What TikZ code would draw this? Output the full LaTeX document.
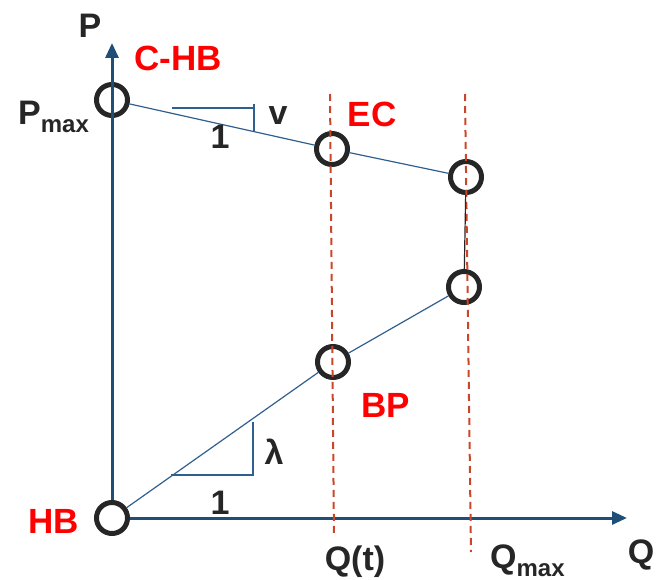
\documentclass[tikz,border=0pt]{standalone}
\usepackage{fontspec}
\setmainfont{Liberation Sans}
\usetikzlibrary{arrows.meta}

\definecolor{axisblue}{HTML}{1F4E79}
\definecolor{lineblue}{HTML}{2F5F8F}
\definecolor{ink}{HTML}{262626}
\definecolor{dashred}{HTML}{C8472A}

\tikzset{
    pt/.style={circle, draw=ink, line width=5pt, minimum size=31pt, inner sep=0pt},
    lbl/.style={text=ink, inner sep=0pt, font=\fontsize{34}{38}\selectfont\bfseries},
    tag/.style={text=red, inner sep=0pt, font=\fontsize{35}{40}\selectfont\bfseries},
    axis/.style={axisblue, line width=3pt, -{Triangle[length=15pt,width=13pt]}},
    seg/.style={lineblue, line width=1.2pt},
    qline/.style={dashred, line width=2pt, dash pattern=on 7pt off 5pt},
}
\newcommand{\sub}[1]{\raisebox{-8pt}{\fontsize{24}{26}\selectfont #1}}

\begin{document}
\begin{tikzpicture}[x=1pt, y=-1pt]
    \useasboundingbox (0,0) rectangle (662,580);

    % operating points
    \node[pt] (chb) at (112,100) {};
    \node[pt] (ec) at (332,149) {};
    \node[pt] (top) at (466,177) {};
    \node[pt] (bot) at (464,287) {};
    \node[pt] (bp) at (333,362) {};
    \node[pt] (hb) at (112,518) {};

    % axes
    \coordinate (ptip) at (112,43);
    \coordinate (qtip) at (627,518);
    \draw[axis] (hb) -- (ptip);
    \draw[axis] (hb) -- (qtip);

    % dashed verticals at Q(t) and Q_max
    \coordinate (qt1) at (330,94);
    \coordinate (qt2) at (334,537);
    \coordinate (qm1) at (465,94);
    \coordinate (qm2) at (471,552);
    \draw[qline] (qt1) -- (qt2);
    \draw[qline] (qm1) -- (qm2);

    % characteristic lines
    \draw[seg] (chb) -- (ec) -- (top);
    \draw[seg, ink] (top) -- (bot);
    \draw[seg] (hb) -- (bp) -- (bot);

    % slope markers
    \draw[seg] (172,108) -- (254,108);
    \draw[seg] (254,104) -- (254,131);
    \draw[seg] (171,475) -- (253,475) -- (253,422);

    % labels
    \node[lbl] (plab) at (90,26) {P};
    \node[lbl, anchor=base west] (pmax) at (18,125) {P\sub{max}};
    \node[lbl] (vlab) at (278,116) {v};
    \node[lbl] (one1) at (220,137) {1};
    \node[lbl] (lam) at (274,452) {λ};
    \node[lbl] (one2) at (220,503) {1};
    \node[lbl, anchor=base] (qt) at (355,570) {Q(t)};
    \node[lbl, anchor=base west] (qmax) at (490,568) {Q\sub{max}};
    \node[lbl, anchor=base] (qlab) at (641,563) {Q};

    \node[tag] (chbl) at (178,58) {C-HB};
    \node[tag] (ecl) at (372,114) {EC};
    \node[tag] (bpl) at (386,405) {BP};
    \node[tag] (hbl) at (54,521) {HB};
\end{tikzpicture}
\end{document}
